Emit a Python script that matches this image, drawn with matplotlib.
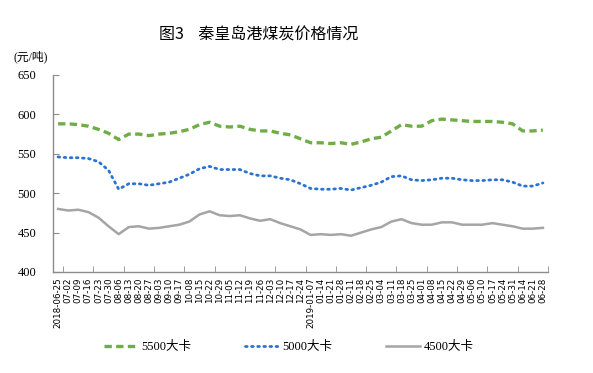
import matplotlib
matplotlib.use('Agg')
import matplotlib.pyplot as plt
import numpy as np

# 秦皇岛港煤炭价格 (元/吨)
dates = ['2018-06-25', '07-02', '07-09', '07-16', '07-23', '07-30', '08-06', '08-13',
         '08-20', '08-27', '09-03', '09-10', '09-17', '10-08', '10-15', '10-22',
         '10-29', '11-05', '11-12', '11-19', '11-26', '12-03', '12-10', '12-17',
         '12-24', '2019-01-07', '01-14', '01-21', '01-28', '02-11', '02-18', '02-25',
         '03-04', '03-11', '03-18', '03-25', '04-01', '04-08', '04-15', '04-22',
         '04-29', '05-06', '05-10', '05-17', '05-24', '05-31', '06-14', '06-21', '06-28']

kcal5500 = [588, 588, 587, 585, 581, 576, 568, 575, 575, 573, 575, 576, 578, 581, 587, 590,
            585, 584, 585, 581, 579, 579, 576, 574, 569, 564, 564, 563, 564, 562, 565, 569,
            571, 579, 587, 585, 585, 592, 594, 593, 592, 591, 591, 591, 590, 588, 579, 579, 580]

kcal5000 = [546, 545, 545, 544, 540, 529, 505, 512, 512, 510, 512, 514, 519, 524, 531, 534,
            530, 530, 530, 525, 522, 522, 519, 517, 512, 506, 505, 505, 506, 504, 507, 510,
            514, 521, 522, 517, 516, 517, 519, 519, 517, 516, 516, 517, 517, 514, 509, 509, 513]

kcal4500 = [480, 478, 479, 476, 469, 458, 448, 457, 458, 455, 456, 458, 460, 464, 473, 477,
            472, 471, 472, 468, 465, 467, 462, 458, 454, 447, 448, 447, 448, 446, 450, 454,
            457, 464, 467, 462, 460, 460, 463, 463, 460, 460, 460, 462, 460, 458, 455, 455, 456]

labels = ['5500大卡', '5000大卡', '4500大卡']
colors = ['#70AD47', '#2A72D4', '#A5A5A5']

plt.rcParams['font.family'] = ['Liberation Serif', 'Noto Sans CJK SC']

fig = plt.figure(figsize=(5.93, 3.73), dpi=100)
ax = fig.add_axes([0.0894, 0.2708, 0.8346, 0.5282])

x = np.arange(len(dates))
l1, = ax.plot(x, kcal5500, color=colors[0], lw=2.4, linestyle=(0, (2.2, 1.3)))
l2, = ax.plot(x, kcal5000, color=colors[1], lw=2.0, linestyle=(0, (0.6, 1.6)),
              dash_capstyle='round')
l3, = ax.plot(x, kcal4500, color=colors[2], lw=1.8)

ax.set_xlim(-0.5, len(dates) - 0.5)
ax.set_ylim(400, 650)
ax.set_yticks(np.arange(400, 651, 50))

ax.set_xticks(x)
ax.set_xticklabels(dates, rotation=90, fontsize=6.3, family=['DejaVu Sans'])
ax.set_xticks(np.arange(0.5, len(dates), 3), minor=True)
ax.tick_params(axis='x', which='major', length=0, pad=4)
ax.tick_params(axis='x', which='minor', length=4, direction='in', color='#8c8c8c')
ax.tick_params(axis='y', length=4, direction='in', color='#8c8c8c', labelsize=9, pad=12)

for s in ['top', 'right']:
    ax.spines[s].set_visible(False)
for s in ['left', 'bottom']:
    ax.spines[s].set_color('#8c8c8c')
    ax.spines[s].set_linewidth(1.0)

fig.text(0.437, 0.905, '图3    秦皇岛港煤炭价格情况', ha='center', va='center',
         fontsize=11.5, family=['Noto Sans CJK SC'])
fig.text(0.052, 0.848, '(元/吨)', ha='center', va='center', fontsize=8.5)

fig.legend([l1, l2, l3], labels, loc='center', bbox_to_anchor=(0.487, 0.07), ncol=3,
           frameon=False, fontsize=9, handlelength=2.7, handletextpad=0.3,
           columnspacing=4.3)

fig.savefig('out.png', dpi=100)
